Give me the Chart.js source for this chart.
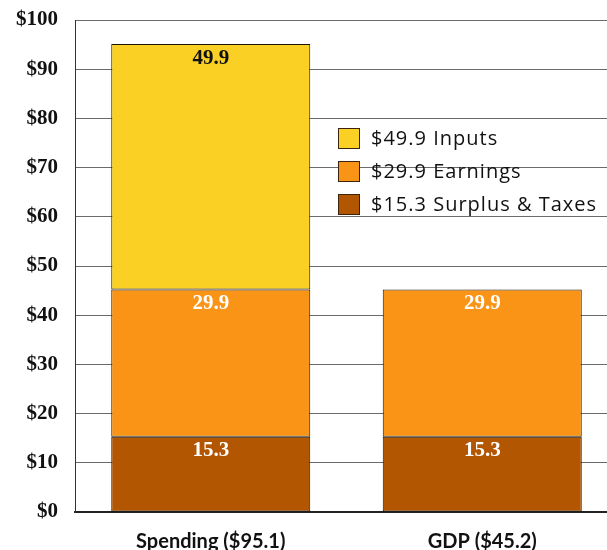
<!DOCTYPE html>
<html>
<head>
<meta charset="utf-8">
<script src="https://cdn.jsdelivr.net/npm/chart.js@4/dist/chart.umd.min.js"></script>
<style>
  html, body { margin: 0; padding: 0; background: #fff; overflow: hidden; }
  #wrap { width: 620px; height: 550px; }
</style>
</head>
<body>
<div id="wrap"><canvas id="c" width="620" height="550"></canvas></div>
<script>
// categories and series (bottom to top of stack)
const categories = ['Spending ($95.1)', 'GDP ($45.2)']
const surplus = [15.3, 15.3]
const earnings = [29.9, 29.9]
const inputs = [49.9, null]
const legendLabels = ['$15.3 Surplus & Taxes', '$29.9 Earnings', '$49.9 Inputs']
const yTicks = [0, 10, 20, 30, 40, 50, 60, 70, 80, 90, 100]

const colors = ['#b35602', '#f99416', '#f9d023']
const labelColors = ['#fff', '#fff', '#111']

// value labels at the top of each segment
const segmentLabels = {
  id: 'segmentLabels',
  afterDatasetsDraw(chart) {
    const ctx = chart.ctx
    ctx.save()
    ctx.font = 'bold 21px "Liberation Serif"'
    ctx.textAlign = 'center'
    ctx.textBaseline = 'middle'
    chart.data.datasets.forEach((ds, i) => {
      const meta = chart.getDatasetMeta(i)
      meta.data.forEach((bar, j) => {
        const v = ds.data[j]
        if (v == null) return
        ctx.fillStyle = labelColors[i]
        ctx.fillText(v.toFixed(1), bar.x, bar.y + 14)
      })
    })
    ctx.restore()
  }
}

// legend drawn inside the plot area
const innerLegend = {
  id: 'innerLegend',
  afterDraw(chart) {
    const ctx = chart.ctx
    ctx.save()
    ctx.font = '20px "Open Sans"'
    ctx.letterSpacing = '1px'
    ctx.textBaseline = 'middle'
    const n = chart.data.datasets.length
    for (let k = 0; k < n; k++) {
      const i = n - 1 - k
      const y = 138 + k * 33
      ctx.fillStyle = colors[i]
      ctx.fillRect(338, y - 10, 22, 21)
      ctx.strokeStyle = '#3a2410'
      ctx.lineWidth = 1
      ctx.strokeRect(338.5, y - 9.5, 21, 20)
      ctx.fillStyle = '#111'
      ctx.fillText(chart.data.datasets[i].label, 371, y + 1)
    }
    ctx.restore()
  }
}

const makeSet = (label, data, i) => ({
  label,
  data,
  backgroundColor: colors[i],
  borderColor: '#1e1408',
  borderWidth: 1,
  borderSkipped: false,
  barPercentage: 0.733,
  categoryPercentage: 1
})

new Chart(document.getElementById('c'), {
  type: 'bar',
  data: {
    labels: categories,
    datasets: [
      makeSet(legendLabels[0], surplus, 0),
      makeSet(legendLabels[1], earnings, 1),
      makeSet(legendLabels[2], inputs, 2)
    ]
  },
  options: {
    responsive: false,
    animation: false,
    layout: { padding: { top: 20, right: 2, left: 0, bottom: 0 } },
    plugins: {
      legend: { display: false },
      tooltip: { enabled: false }
    },
    scales: {
      x: {
        stacked: true,
        grid: { display: false },
        border: { color: '#222', width: 2 },
        ticks: {
          color: '#111',
          font: { family: 'Lato', weight: 'bold', size: 20 },
          padding: 10
        },
        afterFit: (s) => { s.height = 38; s.paddingLeft = 0; s.paddingRight = 0 }
      },
      y: {
        stacked: true,
        min: 0,
        max: 100,
        afterBuildTicks: (s) => { s.ticks = yTicks.map(v => ({ value: v })) },
        grid: { color: '#6a6a6a', lineWidth: 1, drawTicks: false },
        border: { color: '#333', width: 1 },
        ticks: {
          color: '#111',
          padding: 17,
          font: { family: 'Liberation Serif', weight: 'bold', size: 21 },
          callback: (v) => '$' + v
        },
        afterFit: (s) => { s.width = 75; s.paddingTop = 0; s.paddingBottom = 0 }
      }
    }
  },
  plugins: [segmentLabels, innerLegend]
})
</script>
</body>
</html>
